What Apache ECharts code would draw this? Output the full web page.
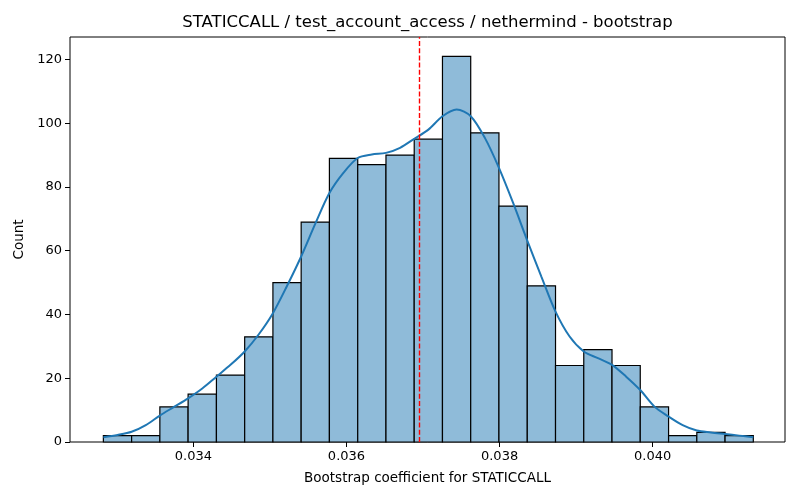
<!DOCTYPE html>
<html>
<head>
<meta charset="utf-8">
<script src="https://cdn.jsdelivr.net/npm/echarts@6/dist/echarts.min.js"></script>
<style>
  html, body { margin: 0; padding: 0; background: #fff; }
  #chart { width: 800px; height: 500px; }
</style>
</head>
<body>
<div id="chart"></div>
<script>
let dom = document.getElementById("chart")
let myChart = echarts.init(dom)

// histogram bins (edges) and counts
var binEdges = [0.032824, 0.033193, 0.033562, 0.033931, 0.034301, 0.034670, 0.035039, 0.035408,
  0.035777, 0.036147, 0.036516, 0.036885, 0.037254, 0.037623, 0.037992, 0.038362, 0.038731,
  0.039100, 0.039469, 0.039838, 0.040208, 0.040577, 0.040946, 0.041315];
var counts = [2, 2, 11, 15, 21, 33, 50, 69, 89, 87, 90, 95, 121, 97, 74, 49, 24, 29, 24, 11, 2, 3, 2];

// kde curve
var kdeX = [0.032824, 0.033009, 0.033193, 0.033378, 0.033562, 0.033747, 0.033931, 0.034116,
  0.034301, 0.034485, 0.034670, 0.034855, 0.035039, 0.035224, 0.035408, 0.035593, 0.035777,
  0.035962, 0.036147, 0.036331, 0.036516, 0.036700, 0.036885, 0.037070, 0.037254, 0.037439,
  0.037623, 0.037808, 0.037992, 0.038177, 0.038362, 0.038546, 0.038731, 0.038915, 0.039100,
  0.039285, 0.039469, 0.039654, 0.039838, 0.040023, 0.040208, 0.040392, 0.040577, 0.040761,
  0.040946, 0.041131, 0.041315];
var kdeY = [1.5, 2.2, 3.2, 5.3, 8.3, 11.0, 13.7, 16.8, 20.5, 24.2, 28.4, 33.8, 40.4, 49.0, 58.2,
  68.5, 78.1, 84.5, 89.1, 90.2, 90.7, 92.3, 95.1, 98.0, 102.2, 104.3, 102.2, 95.4, 86.0, 75.0,
  63.2, 51.9, 40.9, 33.1, 28.4, 26.3, 24.2, 20.5, 16.3, 11.1, 8.0, 5.3, 3.6, 3.0, 2.5, 2.0, 1.5];

var meanValue = 0.036954;
var xTicks = [0.034, 0.036, 0.038, 0.040];
var yTicks = [0, 20, 40, 60, 80, 100, 120];
var yMax = 127.05;

var font = '"DejaVu Sans", sans-serif';

let barData = counts.map(function (c, i) {
  return [binEdges[i], binEdges[i + 1], c];
});
let kdeData = kdeX.map(function (x, i) {
  return [x, kdeY[i]];
});

let option = {
  animation: false,
  backgroundColor: '#fff',
  grid: {
    left: 70,
    right: 15,
    top: 37,
    bottom: 58,
    show: true,
    borderColor: '#000',
    borderWidth: 1,
    backgroundColor: 'transparent'
  },
  graphic: [{
    type: 'text',
    x: 427.5,
    y: 23,
    silent: true,
    style: {
      text: 'STATICCALL / test_account_access / nethermind - bootstrap',
      fill: '#000',
      font: '16.5px ' + font,
      textAlign: 'center',
      textVerticalAlign: 'middle'
    }
  }],
  xAxis: {
    type: 'value',
    min: 0.032388,
    max: 0.041729,
    name: 'Bootstrap coefficient for STATICCALL',
    nameLocation: 'middle',
    nameGap: 29,
    nameTextStyle: { color: '#000', fontSize: 13.5, fontFamily: font },
    axisLine: { show: false },
    splitLine: { show: false },
    axisTick: {
      show: true,
      length: 5,
      customValues: xTicks,
      lineStyle: { color: '#000' }
    },
    axisLabel: {
      color: '#000',
      fontSize: 13,
      fontFamily: font,
      margin: 8,
      customValues: xTicks,
      formatter: function (v) { return v.toFixed(3) }
    }
  },
  yAxis: {
    type: 'value',
    min: 0,
    max: yMax,
    name: 'Count',
    nameLocation: 'middle',
    nameGap: 41,
    nameTextStyle: { color: '#000', fontSize: 13.5, fontFamily: font },
    axisLine: { show: false },
    splitLine: { show: false },
    axisTick: {
      show: true,
      length: 5,
      customValues: yTicks,
      lineStyle: { color: '#000' }
    },
    axisLabel: {
      color: '#000',
      fontSize: 13,
      fontFamily: font,
      margin: 8,
      customValues: yTicks
    }
  },
  series: [
    {
      name: 'hist',
      type: 'custom',
      data: barData,
      encode: { x: [0, 1], y: 2 },
      renderItem: function (params, api) {
        let p0 = api.coord([api.value(0), api.value(2)])
        let p1 = api.coord([api.value(1), 0])
        return {
          type: 'rect',
          shape: { x: p0[0], y: p0[1], width: p1[0] - p0[0], height: p1[1] - p0[1] },
          style: { fill: '#8fbbd9', stroke: '#000', lineWidth: 1.2 }
        }
      },
      z: 2
    },
    {
      name: 'kde',
      type: 'line',
      data: kdeData,
      smooth: 0.3,
      symbol: 'none',
      lineStyle: { color: '#1f77b4', width: 2 },
      z: 3
    },
    {
      name: 'mean',
      type: 'custom',
      data: [[meanValue, 0, yMax]],
      encode: { x: 0, y: [1, 2] },
      silent: true,
      renderItem: function (params, api) {
        let a = api.coord([api.value(0), api.value(1)])
        let b = api.coord([api.value(0), api.value(2)])
        return {
          type: 'line',
          shape: { x1: a[0], y1: a[1], x2: b[0], y2: b[1] },
          style: { stroke: '#ff0000', lineWidth: 1.4, lineDash: [5, 2.2] }
        }
      },
      z: 4
    }
  ]
}

myChart.setOption(option, true);
</script>
</body>
</html>
